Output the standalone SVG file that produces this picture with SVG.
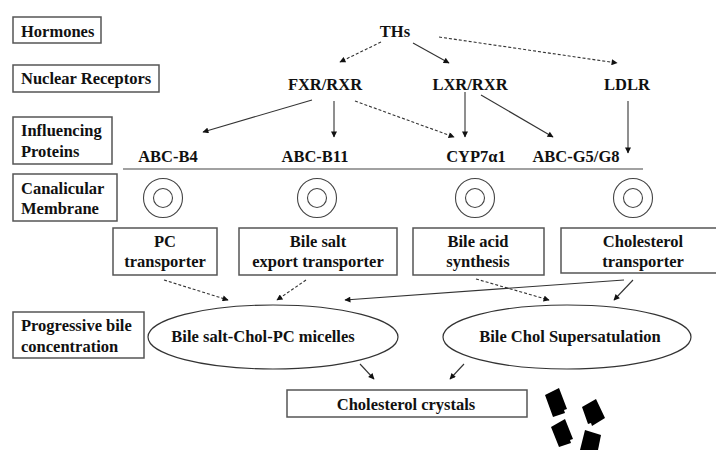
<svg xmlns="http://www.w3.org/2000/svg" width="716" height="450" viewBox="0 0 716 450">
<defs>
<marker id="ah" viewBox="0 0 10 10" refX="9" refY="5" markerWidth="7" markerHeight="6" markerUnits="userSpaceOnUse" orient="auto">
<path d="M0,0 L10,5 L0,10 z" fill="#111"/>
</marker>
<style>
text{font-family:"Liberation Serif","Times New Roman",serif;font-weight:bold;font-size:16.5px;fill:#111}
.c{text-anchor:middle}
.box{fill:#fff;stroke:#555;stroke-width:1.5}
.ring{fill:none;stroke:#444;stroke-width:1.1}
.ell{fill:#fff;stroke:#333;stroke-width:1.2}
.ln{fill:none;stroke:#333;stroke-width:1.1;marker-end:url(#ah)}
.d{stroke-dasharray:3,2}
</style>
</defs>
<rect width="716" height="450" fill="#fff"/>

<g id="label-hormones"><rect class="box" x="13" y="17" width="88" height="26"/><text x="21" y="37">Hormones</text></g>
<g id="label-nuclear"><rect class="box" x="13" y="65" width="146" height="27"/><text x="21" y="84">Nuclear Receptors</text></g>
<g id="label-influencing"><rect class="box" x="13" y="117" width="99" height="47"/><text x="21" y="136">Influencing</text><text x="21" y="157">Proteins</text></g>
<g id="label-canalicular"><rect class="box" x="13" y="174" width="104" height="47"/><text x="21" y="194">Canalicular</text><text x="21" y="214">Membrane</text></g>
<g id="label-progressive"><rect class="box" x="13" y="312" width="131" height="46"/><text x="21" y="331">Progressive bile</text><text x="21" y="352">concentration</text></g>

<g id="ths"><text class="c" x="395" y="37">THs</text></g>
<g id="fxr"><text class="c" x="325" y="90">FXR/RXR</text></g>
<g id="lxr"><text class="c" x="470" y="90">LXR/RXR</text></g>
<g id="ldlr"><text class="c" x="627" y="90">LDLR</text></g>

<g id="abcb4"><text class="c" x="168" y="162">ABC-B4</text></g>
<g id="abcb11"><text class="c" x="315" y="162">ABC-B11</text></g>
<g id="cyp7a1"><text class="c" x="476" y="162">CYP7α1</text></g>
<g id="abcg5g8"><text class="c" x="576" y="162">ABC-G5/G8</text></g>

<g id="membrane">
<line x1="123" y1="169" x2="643" y2="169" stroke="#444" stroke-width="1.2"/>
<circle class="ring" cx="163" cy="198" r="19.5"/><circle class="ring" cx="163" cy="198" r="9.5"/>
<circle class="ring" cx="317" cy="198" r="19.5"/><circle class="ring" cx="317" cy="198" r="9.5"/>
<circle class="ring" cx="475" cy="198" r="19.5"/><circle class="ring" cx="475" cy="198" r="9.5"/>
<circle class="ring" cx="633" cy="198" r="19.5"/><circle class="ring" cx="633" cy="198" r="9.5"/>
</g>

<g id="pc-transporter"><rect class="box" x="113" y="228" width="104" height="47"/><text class="c" x="165" y="247">PC</text><text class="c" x="165" y="267">transporter</text></g>
<g id="bsep"><rect class="box" x="239" y="228" width="158" height="47"/><text class="c" x="318" y="247">Bile salt</text><text class="c" x="318" y="267">export transporter</text></g>
<g id="bile-acid"><rect class="box" x="413" y="228" width="131" height="47"/><text class="c" x="478" y="247">Bile acid</text><text class="c" x="478" y="267">synthesis</text></g>
<g id="chol-transporter"><rect class="box" x="561" y="228" width="160" height="45"/><text class="c" x="643" y="247">Cholesterol</text><text class="c" x="643" y="267">transporter</text></g>

<g id="micelles"><ellipse class="ell" cx="273" cy="337" rx="125" ry="32"/><text class="c" x="263" y="342">Bile salt-Chol-PC micelles</text></g>
<g id="supersat"><ellipse class="ell" cx="567" cy="337" rx="124" ry="32"/><text class="c" x="570" y="342">Bile Chol Supersatulation</text></g>

<g id="crystals"><rect class="box" x="287" y="390" width="240" height="27"/><text class="c" x="406" y="410">Cholesterol crystals</text></g>

<g id="crystal-shapes" fill="#000">
<polygon points="545,395 559,388 567,409 564,410 565,413 553,417"/>
<polygon points="582,407 596,399 605,418 592,426 591,423 588,424"/>
<polygon points="551,427 565,419 573,439 570,440 571,443 559,447"/>
<polygon points="585,430 601,435 598,450 580,450"/>
</g>

<g id="connectors">
<line class="ln d" x1="381" y1="42" x2="340" y2="62"/>
<line class="ln" x1="413" y1="43" x2="449" y2="63"/>
<line class="ln d" x1="439" y1="37" x2="617" y2="63"/>
<line class="ln" x1="312" y1="100" x2="203" y2="132"/>
<line class="ln" x1="334" y1="101" x2="334" y2="137"/>
<line class="ln d" x1="355" y1="101" x2="454" y2="137"/>
<line class="ln" x1="465" y1="92" x2="465" y2="137"/>
<line class="ln" x1="481" y1="95" x2="553" y2="137"/>
<line class="ln" x1="628" y1="101" x2="628" y2="153"/>
<line class="ln d" x1="164" y1="280" x2="228" y2="300"/>
<line class="ln d" x1="306" y1="280" x2="277" y2="300"/>
<line class="ln" x1="624" y1="280" x2="345" y2="300"/>
<line class="ln" x1="633" y1="280" x2="614" y2="300"/>
<line class="ln d" x1="476" y1="279" x2="549" y2="300"/>
<line class="ln" x1="360" y1="364" x2="374" y2="379"/>
<line class="ln" x1="464" y1="364" x2="450" y2="379"/>
</g>
</svg>
